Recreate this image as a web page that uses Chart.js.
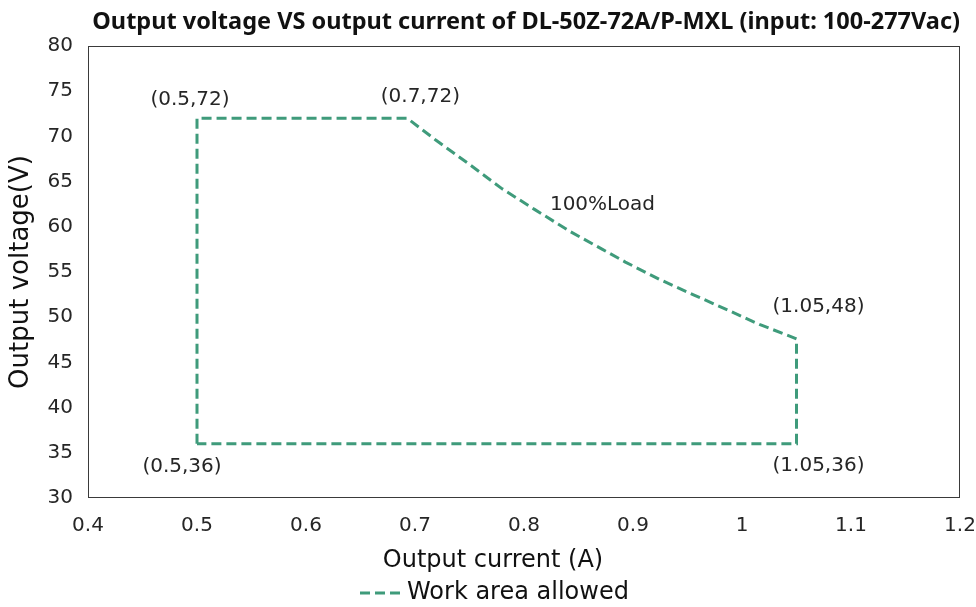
<!DOCTYPE html>
<html>
<head>
<meta charset="utf-8">
<script src="https://cdn.jsdelivr.net/npm/chart.js@4"></script>
<style>
  html, body { margin: 0; padding: 0; background: #ffffff; }
  #wrap { width: 976px; height: 607px; }
</style>
</head>
<body>
<div id="wrap"><canvas id="c" width="976" height="607"></canvas></div>
<script>
// ---- data ----
const currentA = [0.5, 0.5, 0.693, 0.719, 0.750, 0.780, 0.810, 0.842, 0.872, 0.893, 0.924, 0.955, 0.985, 1.016, 1.046, 1.05, 1.05, 0.5];
const voltageV = [36, 72, 72, 69.6, 66.9, 64.2, 61.9, 59.5, 57.5, 56.1, 54.2, 52.5, 50.9, 49.2, 47.8, 47.6, 36, 36];
const xTicks = [0.4, 0.5, 0.6, 0.7, 0.8, 0.9, 1, 1.1, 1.2];
const yTicks = [30, 35, 40, 45, 50, 55, 60, 65, 70, 75, 80];
const seriesName = 'Work area allowed';
const xTitle = 'Output current (A)';
const yTitle = 'Output voltage(V)';
const chartTitle = 'Output voltage VS output current of DL-50Z-72A/P-MXL (input: 100-277Vac)';
const pointLabels = ['(0.5,72)', '(0.7,72)', '100%Load', '(1.05,48)', '(0.5,36)', '(1.05,36)'];
const pointLabelAt = [[0.5, 72], [0.693, 72], [0.872, 62.4], [1.05, 47.6], [0.5, 36], [1.05, 36]];
// ---- styles ----
const pointLabelOffset = [[-7, -19], [13, -22], [0, 0], [22, -32], [-15, 23], [22, 22]];
const lineColor = '#3f9b7b';
const textColor = '#262626';
const FONT = '"DejaVu Sans", "Noto Sans", sans-serif';
const TITLE_FONT = '"Noto Sans", "Open Sans", sans-serif';

const pts = currentA.map((x, i) => ({ x: x, y: voltageV[i] }));

const frameAndLabels = {
  id: 'frameAndLabels',
  afterDatasetsDraw(chart) {
    const { ctx, chartArea: a, scales } = chart;
    ctx.save();
    // plot frame
    ctx.strokeStyle = '#3a3a3a';
    ctx.lineWidth = 1;
    ctx.strokeRect(a.left + 0.5, a.top + 0.5, a.right - a.left - 1, a.bottom - a.top - 1);
    // point labels
    ctx.fillStyle = textColor;
    ctx.font = '20px ' + FONT;
    ctx.textAlign = 'center';
    ctx.textBaseline = 'middle';
    pointLabels.forEach((t, i) => {
      const px = scales.x.getPixelForValue(pointLabelAt[i][0]) + pointLabelOffset[i][0];
      const py = scales.y.getPixelForValue(pointLabelAt[i][1]) + pointLabelOffset[i][1];
      ctx.fillText(t, px, py);
    });
    // x axis title
    ctx.fillStyle = '#111';
    ctx.font = '24px ' + FONT;
    ctx.fillText(xTitle, chart.width / 2 + 5, 561);
    // legend
    const ds = chart.data.datasets[0];
    ctx.strokeStyle = ds.borderColor;
    ctx.lineWidth = 3;
    ctx.setLineDash([10, 5]);
    ctx.beginPath();
    ctx.moveTo(360, 593);
    ctx.lineTo(401, 593);
    ctx.stroke();
    ctx.setLineDash([]);
    ctx.textAlign = 'left';
    ctx.fillText(ds.label, 407, 593);
    ctx.restore();
  }
};

new Chart(document.getElementById('c'), {
  type: 'scatter',
  data: {
    datasets: [{
      label: seriesName,
      data: pts,
      showLine: true,
      borderColor: lineColor,
      backgroundColor: lineColor,
      borderWidth: 3,
      borderDash: [10, 5],
      pointRadius: 0,
      pointHoverRadius: 0,
      tension: 0,
      fill: false
    }]
  },
  options: {
    responsive: false,
    animation: false,
    devicePixelRatio: 1,
    layout: { padding: { left: 0, right: 16, top: 0, bottom: 0 } },
    plugins: {
      title: {
        display: true,
        text: chartTitle,
        align: 'end',
        color: '#111',
        font: { family: TITLE_FONT, size: 23.5, weight: 'bold' },
        padding: { top: 8, bottom: 9.8 }
      },
      legend: { display: false },
      tooltip: { enabled: false }
    },
    scales: {
      x: {
        type: 'linear',
        min: 0.4,
        max: 1.2,
        afterBuildTicks(s) { s.ticks = xTicks.map(v => ({ value: v })); },
        afterFit(s) { s.height = 109; s.paddingRight = 0; s.paddingLeft = 0; },
        grid: { display: false, drawTicks: false },
        border: { display: false },
        ticks: {
          color: textColor,
          font: { family: FONT, size: 20 },
          padding: 16,
          maxRotation: 0,
          callback: v => String(v)
        }
      },
      y: {
        type: 'linear',
        min: 30,
        max: 80,
        afterBuildTicks(s) { s.ticks = yTicks.map(v => ({ value: v })); },
        afterFit(s) { s.width = 88; s.paddingTop = 0; s.paddingBottom = 0; },
        grid: { display: false, drawTicks: false },
        border: { display: false },
        ticks: {
          color: textColor,
          font: { family: FONT, size: 20 },
          padding: 15
        },
        title: {
          display: true,
          text: yTitle,
          color: '#111',
          font: { family: FONT, size: 26 },
          padding: { top: 6, bottom: 0 }
        }
      }
    }
  },
  plugins: [frameAndLabels]
});
</script>
</body>
</html>
